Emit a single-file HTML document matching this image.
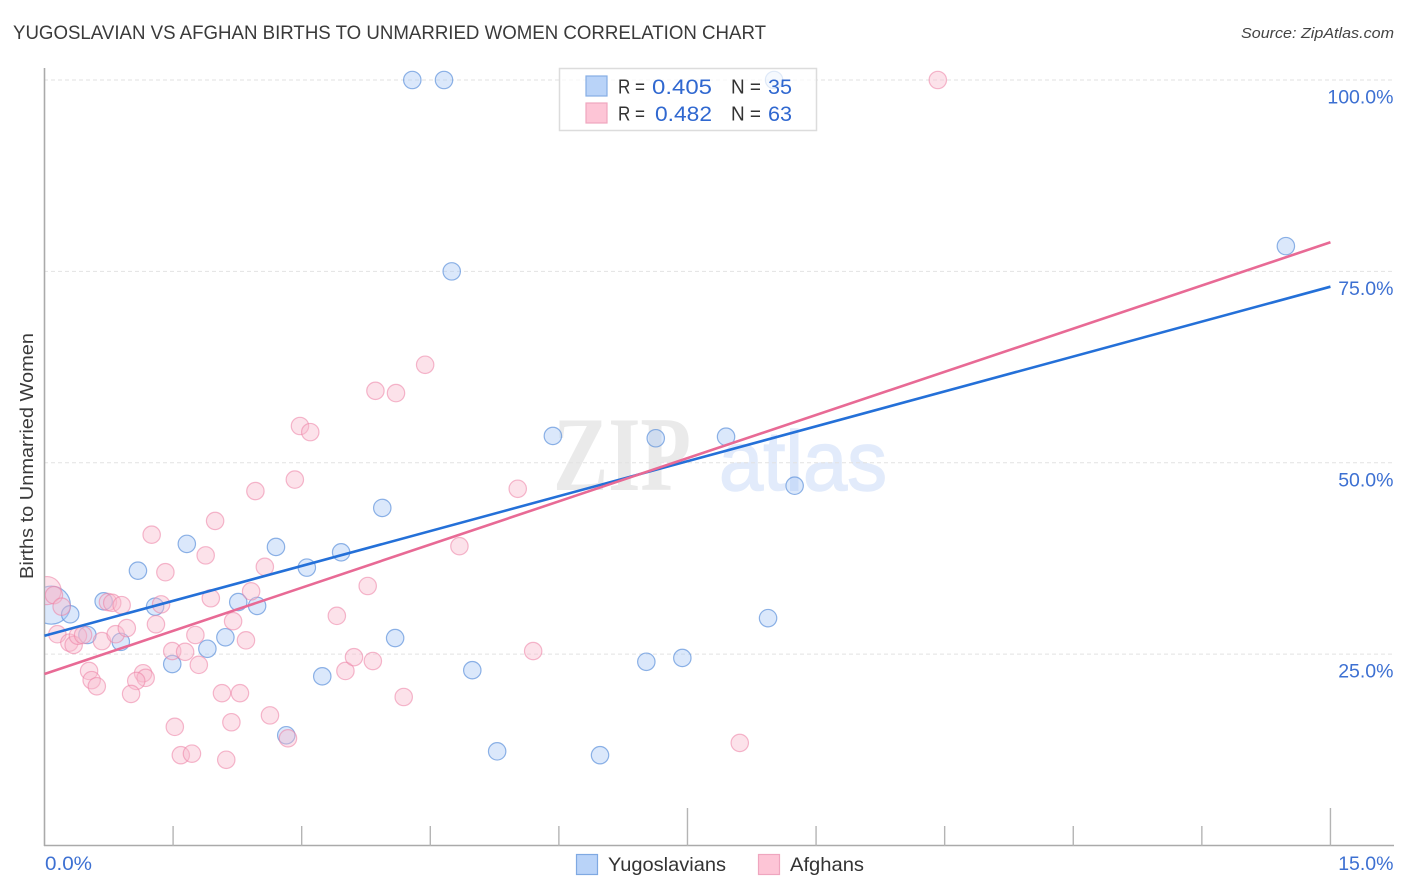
<!DOCTYPE html>
<html lang="en">
<head>
<meta charset="utf-8">
<title>Yugoslavian vs Afghan Births to Unmarried Women Correlation Chart</title>
<style>
html,body{margin:0;padding:0;background:#fff;width:1406px;height:892px;overflow:hidden}
svg{display:block;font-family:"Liberation Sans",sans-serif}
</style>
</head>
<body>
<svg id="chart" xmlns="http://www.w3.org/2000/svg" width="1406" height="892" viewBox="0 0 1406 892">
<defs><clipPath id="plot-clip"><rect x="45" y="60" width="1360" height="786"/></clipPath></defs>
<rect x="0" y="0" width="1406" height="892" fill="#fff"/>
<text x="13" y="39" font-size="19" fill="#3a3a3a" textLength="753" lengthAdjust="spacingAndGlyphs">YUGOSLAVIAN VS AFGHAN BIRTHS TO UNMARRIED WOMEN CORRELATION CHART</text>
<text x="1241" y="38" font-size="15" font-style="italic" fill="#444" textLength="153" lengthAdjust="spacingAndGlyphs">Source: ZipAtlas.com</text>
<text x="553" y="490" font-family="'Liberation Serif',serif" font-weight="bold" font-size="106" fill="#eaeaea" textLength="138" lengthAdjust="spacingAndGlyphs">ZIP</text>
<text x="719" y="490" font-family="'Liberation Sans',sans-serif" font-size="84" fill="#e2ebfb" stroke="#e2ebfb" stroke-width="1.5" textLength="168" lengthAdjust="spacingAndGlyphs">atlas</text>
<g id="grid"></g>
<g id="axes"></g>
<g id="ylabels"></g>
<g id="xlabels"></g>
<text transform="translate(33,456) rotate(-90)" font-size="18.5" fill="#3a3a3a" text-anchor="middle" textLength="246" lengthAdjust="spacingAndGlyphs">Births to Unmarried Women</text>
<g id="points" clip-path="url(#plot-clip)"></g>
<g id="lines"></g>
<g>
<rect x="559.5" y="68.5" width="257" height="62" fill="#fff" fill-opacity="0.72" stroke="#dcdcdc" stroke-width="1.5"/>
<rect x="586" y="76" width="21" height="20" fill="#b9d3f8" stroke="#86aee4" stroke-width="1.2"/>
<rect x="586" y="103" width="21" height="20" fill="#fdc5d6" stroke="#efa6bf" stroke-width="1.2"/>
<g font-size="20" fill="#333">
<text x="618" y="93.5" textLength="27" lengthAdjust="spacingAndGlyphs">R =</text>
<text x="731" y="93.5" textLength="30" lengthAdjust="spacingAndGlyphs">N =</text>
<text x="618" y="120.5" textLength="27" lengthAdjust="spacingAndGlyphs">R =</text>
<text x="731" y="120.5" textLength="30" lengthAdjust="spacingAndGlyphs">N =</text>
</g>
<g font-size="21.5" fill="#3068d0">
<text x="652" y="94" textLength="60" lengthAdjust="spacingAndGlyphs">0.405</text>
<text x="768" y="94" textLength="24" lengthAdjust="spacingAndGlyphs">35</text>
<text x="655" y="121" textLength="57" lengthAdjust="spacingAndGlyphs">0.482</text>
<text x="768" y="121" textLength="24" lengthAdjust="spacingAndGlyphs">63</text>
</g>
</g>
<g>
<rect x="576.5" y="854.5" width="21" height="20" fill="#b9d3f8" stroke="#7fa9e2" stroke-width="1.2"/>
<text x="608" y="871" font-size="19.5" fill="#333" textLength="118" lengthAdjust="spacingAndGlyphs">Yugoslavians</text>
<rect x="758.5" y="854.5" width="21" height="20" fill="#fdc5d6" stroke="#efa6bf" stroke-width="1.2"/>
<text x="790" y="871" font-size="19.5" fill="#333" textLength="74" lengthAdjust="spacingAndGlyphs">Afghans</text>
</g>
</svg>
<script>
// Chart data
const yTickValues = [25, 50, 75, 100];
const yTickLabels = ["25.0%", "50.0%", "75.0%", "100.0%"];
const xTickValues = [0, 1.5, 3, 4.5, 6, 7.5, 9, 10.5, 12, 13.5, 15];
const xMajorTicks = [0, 7.5, 15];
const xEndLabels = ["0.0%", "15.0%"];

const yugoslavianX = [0.08,0.30,0.50,0.69,0.89,1.09,1.29,1.49,1.66,1.90,2.11,2.26,2.48,2.70,2.82,3.06,3.24,3.46,3.94,4.09,4.29,4.66,4.75,4.99,5.28,5.93,6.48,7.02,7.13,7.44,7.95,8.44,8.51,8.75,14.48];
const yugoslavianY = [31.4,30.2,27.5,31.9,26.6,35.9,31.2,23.7,39.4,25.7,27.2,31.8,31.3,39.0,14.4,36.3,22.1,38.3,44.1,27.1,100,100,75.0,22.9,12.3,53.5,11.8,24.0,53.2,24.5,53.4,29.7,100,47.0,78.3];
const yugoslavianWeight = [4.8,1,1,1,1,1,1,1,1,1,1,1,1,1,1,1,1,1,1,1,1,1,1,1,1,1,1,1,1,1,1,1,1,1,1];

const afghanX = [0.03,0.11,0.20,0.15,0.29,0.34,0.39,0.45,0.67,0.83,0.96,0.74,0.79,0.90,1.36,1.30,0.52,0.55,0.61,1.15,1.18,1.07,1.01,1.49,1.64,1.80,1.76,2.35,2.20,2.41,1.94,2.57,1.88,1.41,1.25,1.99,3.41,3.51,2.07,2.28,2.63,1.52,2.18,1.59,1.72,2.12,2.84,2.46,2.92,2.98,3.10,3.86,4.10,4.44,5.52,4.84,3.77,3.61,3.83,4.19,5.70,8.11,10.42];
const afghanY = [33.3,32.7,31.2,27.6,26.5,26.2,27.4,27.5,26.7,27.6,28.4,31.8,31.7,31.4,31.5,28.9,22.8,21.6,20.8,22.5,21.9,21.5,19.8,25.4,25.3,23.6,27.5,26.8,29.3,33.2,32.3,36.4,37.9,35.7,40.6,42.4,30.0,22.8,19.9,19.9,17.0,15.5,16.1,11.8,12.0,11.2,14.0,46.3,47.8,54.8,54.0,59.4,59.1,62.8,46.6,39.1,33.9,24.6,24.1,19.4,25.4,13.4,100];
const afghanWeight = [2.6,1,1,1,1,1,1,1,1,1,1,1,1,1,1,1,1,1,1,1,1,1,1,1,1,1,1,1,1,1,1,1,1,1,1,1,1,1,1,1,1,1,1,1,1,1,1,1,1,1,1,1,1,1,1,1,1,1,1,1,1,1,1];

const trendX = [0, 15];
const yugoslavianTrend = [27.4, 73.0];
const afghanTrend = [22.4, 78.8];

// Axis functions
const sx = v => 44.5 + v * 85.73;
const sy = v => 845.5 - v * 7.655;
const sr = w => 8.7 * Math.sqrt(w);
const NS = "http://www.w3.org/2000/svg";
function mk(tag, parent, attrs, text) {
  const el = document.createElementNS(NS, tag);
  for (const k in attrs) el.setAttribute(k, attrs[k]);
  if (text !== undefined) el.textContent = text;
  parent.appendChild(el);
  return el;
}
const gGrid = document.getElementById("grid");
const gAxes = document.getElementById("axes");
const gY = document.getElementById("ylabels");
const gX = document.getElementById("xlabels");
const gPts = document.getElementById("points");
const gLines = document.getElementById("lines");

yTickValues.forEach((v, i) => {
  const g = mk("line", gGrid, {x1: 44, x2: 1394, y1: sy(v), y2: sy(v), stroke: "#e2e2e2", "stroke-width": 1, "stroke-dasharray": "4 3"});
  
  
  const t = mk("text", gY, {x: 1393.5, y: sy(v) + 23.5, "font-size": 19.5, fill: "#3d70d2", "text-anchor": "end"}, yTickLabels[i]);
  
  
});

const yAxisLine = mk("line", gAxes, {x1: 44.5, x2: 44.5, y1: 68, y2: 846, stroke: "#aaa", "stroke-width": 1.6});


const xAxisLine = mk("line", gAxes, {x1: 44, x2: 1394, y1: 845.5, y2: 845.5, stroke: "#aaa", "stroke-width": 1.6});


xTickValues.forEach(v => {
  if (v === 0) return;
  const top = xMajorTicks.includes(v) ? 808 : 826;
  const tick = mk("line", gAxes, {x1: sx(v), x2: sx(v), y1: top, y2: 846, stroke: "#b4b4b4", "stroke-width": 1.4});
  
  
});

const xLabelStart = mk("text", gX, {x: 45, y: 870, "font-size": 19, fill: "#3d70d2", textLength: 47, lengthAdjust: "spacingAndGlyphs"}, xEndLabels[0]);


const xLabelEnd = mk("text", gX, {x: 1393.5, y: 870, "font-size": 19.5, fill: "#3d70d2", "text-anchor": "end"}, xEndLabels[1]);



yugoslavianX.forEach((x, i) => {
  const c = mk("circle", gPts, {cx: sx(x), cy: sy(yugoslavianY[i]), r: sr(yugoslavianWeight[i]), fill: "#a9c8f5", "fill-opacity": 0.42, stroke: "#5f93dc", "stroke-opacity": 0.7, "stroke-width": 1.2});
  
  
});
afghanX.forEach((x, i) => {
  const c = mk("circle", gPts, {cx: sx(x), cy: sy(afghanY[i]), r: sr(afghanWeight[i]), fill: "#f9b9cd", "fill-opacity": 0.42, stroke: "#ec7fa4", "stroke-opacity": 0.55, "stroke-width": 1.2});
  
  
});

const blueLine = mk("line", gLines, {x1: sx(trendX[0]), y1: sy(yugoslavianTrend[0]), x2: sx(trendX[1]), y2: sy(yugoslavianTrend[1]), stroke: "#2470d8", "stroke-width": 2.6});


const pinkLine = mk("line", gLines, {x1: sx(trendX[0]), y1: sy(afghanTrend[0]), x2: sx(trendX[1]), y2: sy(afghanTrend[1]), stroke: "#e86a95", "stroke-width": 2.6});


</script>
</body>
</html>
